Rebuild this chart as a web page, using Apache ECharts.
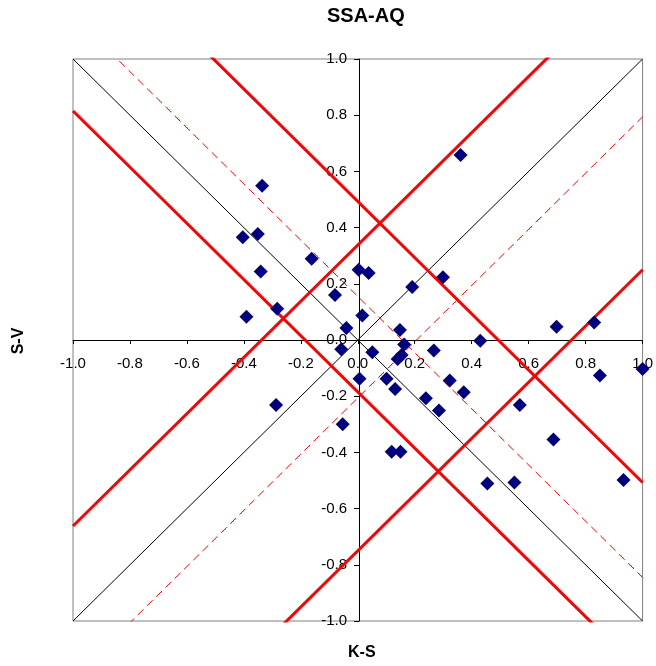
<!DOCTYPE html>
<html>
<head>
<meta charset="utf-8">
<script src="https://cdn.jsdelivr.net/npm/echarts@6/dist/echarts.min.js"></script>
<style>
html,body{margin:0;padding:0;background:#fff;}
#main{width:656px;height:666px;}
</style>
</head>
<body>
<div id="main"></div>
<script>
// Scatter points [K-S, S-V]
const points = [
  [-0.336, 0.549], [-0.404, 0.366], [-0.351, 0.377], [-0.341, 0.244],
  [-0.162, 0.289], [-0.283, 0.111], [-0.391, 0.083], [-0.080, 0.160],
  [-0.040, 0.043], [-0.058, -0.033], [0.361, 0.658], [0.003, 0.250],
  [0.038, 0.238], [0.191, 0.189], [0.299, 0.223], [0.016, 0.087],
  [0.148, 0.036], [0.163, -0.016], [0.051, -0.044], [0.267, -0.037],
  [0.430, -0.003], [0.698, 0.047], [0.830, 0.062], [0.140, -0.068],
  [0.154, -0.053], [0.006, -0.138], [0.101, -0.138], [0.131, -0.174],
  [0.323, -0.144], [0.372, -0.186], [0.239, -0.207], [0.285, -0.251],
  [0.569, -0.231], [0.850, -0.126], [1.000, -0.103], [0.687, -0.354],
  [0.119, -0.398], [0.150, -0.398], [0.455, -0.511], [0.550, -0.507],
  [0.933, -0.498], [-0.053, -0.300], [-0.287, -0.231]
];
// Reference lines y = slope*x + intercept
const diagonalLines = [[1, 0], [-1, 0]];
const redSolidLines = [[-1, 0.493], [-1, -0.185], [1, 0.338], [1, -0.75]];
const redDashedLines = [[-1, 0.155], [1, -0.206]];
const xRange = [-1, 1];
const axisMin = -1, axisMax = 1, axisStep = 0.2;

function lineData(l) {
  return xRange.map(x => [x, l[0] * x + l[1]]);
}

const series = [];
diagonalLines.forEach(l => series.push({
  type: 'line', data: lineData(l), symbol: 'none', silent: true, clip: true,
  lineStyle: { color: '#000', width: 1 }, z: 2
}));
redDashedLines.forEach(l => series.push({
  type: 'line', data: lineData(l), symbol: 'none', silent: true, clip: true,
  lineStyle: { color: '#ff0000', width: 1, type: [8, 5] }, z: 3
}));
redSolidLines.forEach(l => series.push({
  type: 'line', data: lineData(l), symbol: 'none', silent: true, clip: true,
  lineStyle: { color: '#ff0000', width: 3 }, z: 4
}));
series.push({
  type: 'scatter', data: points, symbol: 'diamond', symbolSize: 14,
  itemStyle: { color: '#000080', opacity: 1 }, z: 10
});

const labelStyle = {
  color: '#000', fontSize: 15, fontFamily: 'Liberation Sans, Arial, sans-serif',
  formatter: v => (Math.abs(v) < 1e-9 ? 0 : v).toFixed(1)
};

const G = { left: 73, right: 11, top: 59, bottom: 45 };
const plotW = 656 - G.left - G.right;
const plotH = 666 - G.top - G.bottom;

const chart = echarts.init(document.getElementById('main'), null, { renderer: 'canvas' });
chart.setOption({
  animation: false,
  backgroundColor: '#fff',
  title: {
    text: 'SSA-AQ', left: 327, top: 6, padding: 0,
    textStyle: { fontSize: 20, fontWeight: 'bold', color: '#000', fontFamily: 'Liberation Sans, Arial, sans-serif' }
  },
  grid: Object.assign({
    show: true, borderColor: '#808080', borderWidth: 1, backgroundColor: 'transparent'
  }, G),
  xAxis: {
    type: 'value', min: axisMin, max: axisMax, interval: axisStep,
    position: 'bottom', offset: -plotH / 2,
    axisLine: { onZero: false, lineStyle: { color: '#000', width: 1 } },
    axisTick: { show: true, length: 4, lineStyle: { color: '#000' } },
    axisLabel: Object.assign({ margin: 16 }, labelStyle),
    splitLine: { show: false }
  },
  yAxis: {
    type: 'value', min: axisMin, max: axisMax, interval: axisStep,
    position: 'left', offset: -plotW / 2,
    axisLine: { onZero: false, lineStyle: { color: '#000', width: 1 } },
    axisTick: { show: true, length: 5, lineStyle: { color: '#000' } },
    axisLabel: Object.assign({ margin: 12 }, labelStyle),
    splitLine: { show: false }
  },
  graphic: [
    { type: 'text', left: 362 - 14, top: 645,
      style: { text: 'K-S', fontSize: 16, fontWeight: 'bold', fill: '#000', fontFamily: 'Liberation Sans, Arial, sans-serif' } },
    { type: 'text', x: 19, y: 341, rotation: Math.PI / 2,
      style: { text: 'S-V', fontSize: 16, fontWeight: 'bold', fill: '#000', align: 'center', verticalAlign: 'middle', fontFamily: 'Liberation Sans, Arial, sans-serif' } }
  ],
  series: series
});
</script>
</body>
</html>
